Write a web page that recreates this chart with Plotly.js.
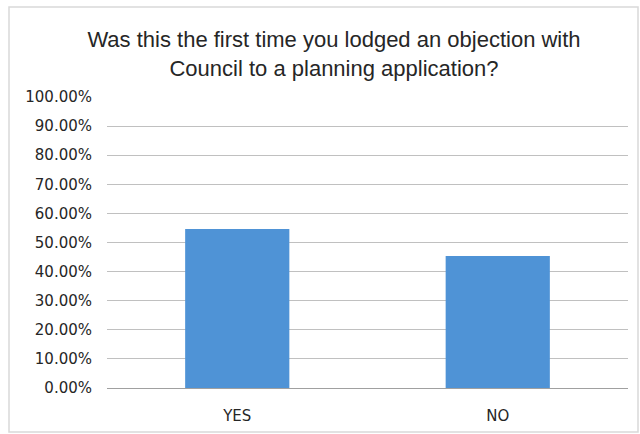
<!DOCTYPE html>
<html>
<head>
<meta charset="utf-8">
<script src="https://cdn.plot.ly/plotly-3.0.1.min.js"></script>
<style>
  html, body { margin: 0; padding: 0; background: #ffffff; }
  #chart { width: 640px; height: 434px; }
</style>
</head>
<body>
<div id="chart"></div>
<script>
const categories = ["YES", "NO"];
const shares = [0.546, 0.454];
const tickValues = [0, 0.1, 0.2, 0.3, 0.4, 0.5, 0.6, 0.7, 0.8, 0.9, 1.0];
const tickLabels = ["0.00%", "10.00%", "20.00%", "30.00%", "40.00%", "50.00%", "60.00%", "70.00%", "80.00%", "90.00%", "100.00%"];
const titleText = "Was this the first time you lodged an objection with<br>Council to a planning application?";

const L = 107, R = 12, T = 97, B = 46;
const W = 640 - L - R, H = 434 - T - B;
const px2x = p => (p - L) / W;
const py2y = p => (434 - B - p) / H;

const data = [{
  type: "bar",
  x: categories,
  y: shares,
  marker: { color: "#4f93d6", line: { width: 0 } },
  width: 0.4,
  hoverinfo: "x+y"
}];

const layout = {
  width: 640,
  height: 434,
  margin: { l: L, r: R, t: T, b: B },
  paper_bgcolor: "#ffffff",
  plot_bgcolor: "#ffffff",
  showlegend: false,
  font: { family: "DejaVu Sans, sans-serif", color: "#404040" },
  title: {
    text: titleText,
    font: { size: 22, color: "#262626", family: "Liberation Sans, Arial, sans-serif" },
    xref: "container", x: 334 / 640, xanchor: "center",
    yref: "container", y: 1 - 47 / 434, yanchor: "top"
  },
  xaxis: {
    type: "category",
    showgrid: false,
    showline: false,
    zeroline: false,
    ticks: "",
    tickfont: { size: 15, color: "#262626", family: "DejaVu Sans, sans-serif" },
    ticklabelstandoff: 17
  },
  yaxis: {
    range: [0, 1],
    tickvals: tickValues,
    ticktext: tickLabels,
    showgrid: true,
    gridcolor: "#c0c0c0",
    gridwidth: 1,
    zeroline: true,
    zerolinecolor: "#a0a0a0",
    zerolinewidth: 1,
    showline: false,
    ticks: "",
    tickfont: { size: 15, color: "#262626", family: "DejaVu Sans, sans-serif" },
    ticklabelstandoff: 14
  },
  shapes: [{
    type: "rect",
    xref: "paper", yref: "paper",
    x0: px2x(9), x1: px2x(638),
    y0: py2y(432), y1: py2y(7),
    line: { color: "#d9d9d9", width: 1.5 },
    fillcolor: "rgba(0,0,0,0)",
    layer: "below"
  }]
};

Plotly.newPlot("chart", data, layout, { displayModeBar: false, staticPlot: true });
</script>
</body>
</html>
